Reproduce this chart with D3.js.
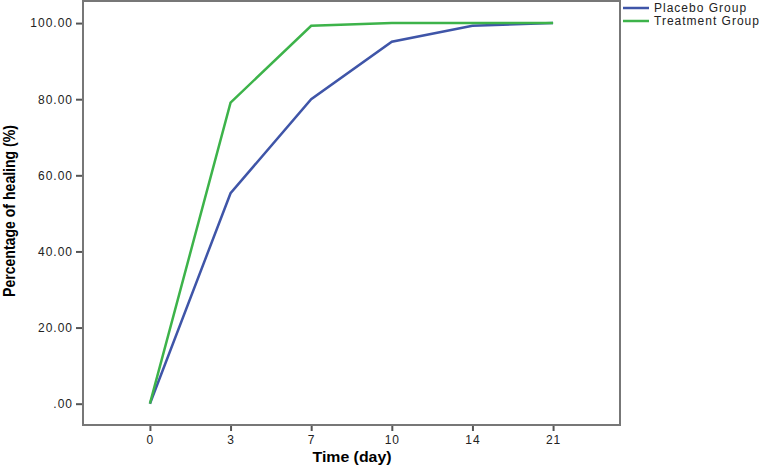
<!DOCTYPE html>
<meta charset="utf-8">
<style>
body { margin: 0; background: #fff; }
.axis text { font: 12px Arial, "Liberation Sans", sans-serif; fill: #222; letter-spacing: 1px; }
.axis path, .axis line { stroke: #555; stroke-width: 2px; }
.frame { fill: none; stroke: #777; stroke-width: 2px; }
.line { fill: none; stroke-width: 2.5px; }
</style>
<svg width="763" height="466"></svg>
<script src="https://cdn.jsdelivr.net/npm/d3@7"></script>
<script>

var days = ["0", "3", "7", "10", "14", "21"];
var placebo = [0, 55.3, 80, 95.1, 99.3, 100];
var treatment = [0, 79.1, 99.3, 100, 100, 100];
var yTicks = [0, 20, 40, 60, 80, 100];

var series = [
  {name: "Placebo Group", values: placebo, color: "#3f55a8"},
  {name: "Treatment Group", values: treatment, color: "#3db34a"}
];

var svg = d3.select("svg"),
    margin = {top: 1, right: 143, bottom: 41, left: 83},
    width = svg.attr("width") - margin.left - margin.right,
    height = svg.attr("height") - margin.top - margin.bottom,
    g = svg.append("g").attr("transform", "translate(" + margin.left + "," + margin.top + ")");

var x = d3.scalePoint().domain(days).range([0, width]).padding(0.83),
    y = d3.scaleLinear().domain([-5.6, 105.8]).range([height, 0]);

g.append("g")
    .attr("class", "axis axis--x")
    .attr("transform", "translate(0," + height + ")")
    .call(d3.axisBottom(x).tickSize(6).tickPadding(4).tickSizeOuter(0))
    .select(".domain").remove();

g.append("g")
    .attr("class", "axis axis--y")
    .call(d3.axisLeft(y).tickValues(yTicks).tickSize(7).tickPadding(3)
      .tickFormat(function(d) { return d === 0 ? ".00" : d3.format(".2f")(d); }))
    .select(".domain").remove();

g.append("rect")
    .attr("class", "frame")
    .attr("width", width)
    .attr("height", height);

var line = d3.line()
    .x(function(d, i) { return x(days[i]); })
    .y(function(d) { return y(d); });

g.selectAll(".line")
  .data(series)
  .enter().append("path")
    .attr("class", "line")
    .attr("d", function(d) { return line(d.values); })
    .style("stroke", function(d) { return d.color; });

svg.append("text")
    .attr("x", 352)
    .attr("y", 462)
    .attr("text-anchor", "middle")
    .attr("textLength", 79)
    .attr("lengthAdjust", "spacingAndGlyphs")
    .style("font", "bold 14px Arial, 'Liberation Sans', sans-serif")
    .text("Time (day)");

svg.append("text")
    .attr("transform", "translate(15,211) rotate(-90)")
    .attr("text-anchor", "middle")
    .attr("textLength", 172)
    .attr("lengthAdjust", "spacingAndGlyphs")
    .style("font", "bold 16px Arial, 'Liberation Sans', sans-serif")
    .text("Percentage of healing (%)");

var legend = svg.selectAll(".legend")
  .data(series)
  .enter().append("g")
    .attr("class", "legend")
    .attr("transform", function(d, i) { return "translate(623," + (8 + i * 13) + ")"; });

legend.append("line")
    .attr("x2", 26)
    .style("stroke", function(d) { return d.color; })
    .style("stroke-width", 2.5);

legend.append("text")
    .attr("x", 31)
    .attr("dy", "0.35em")
    .style("font", "12px Arial, 'Liberation Sans', sans-serif")
    .style("letter-spacing", "1px")
    .style("fill", "#222")
    .text(function(d) { return d.name; });

</script>
